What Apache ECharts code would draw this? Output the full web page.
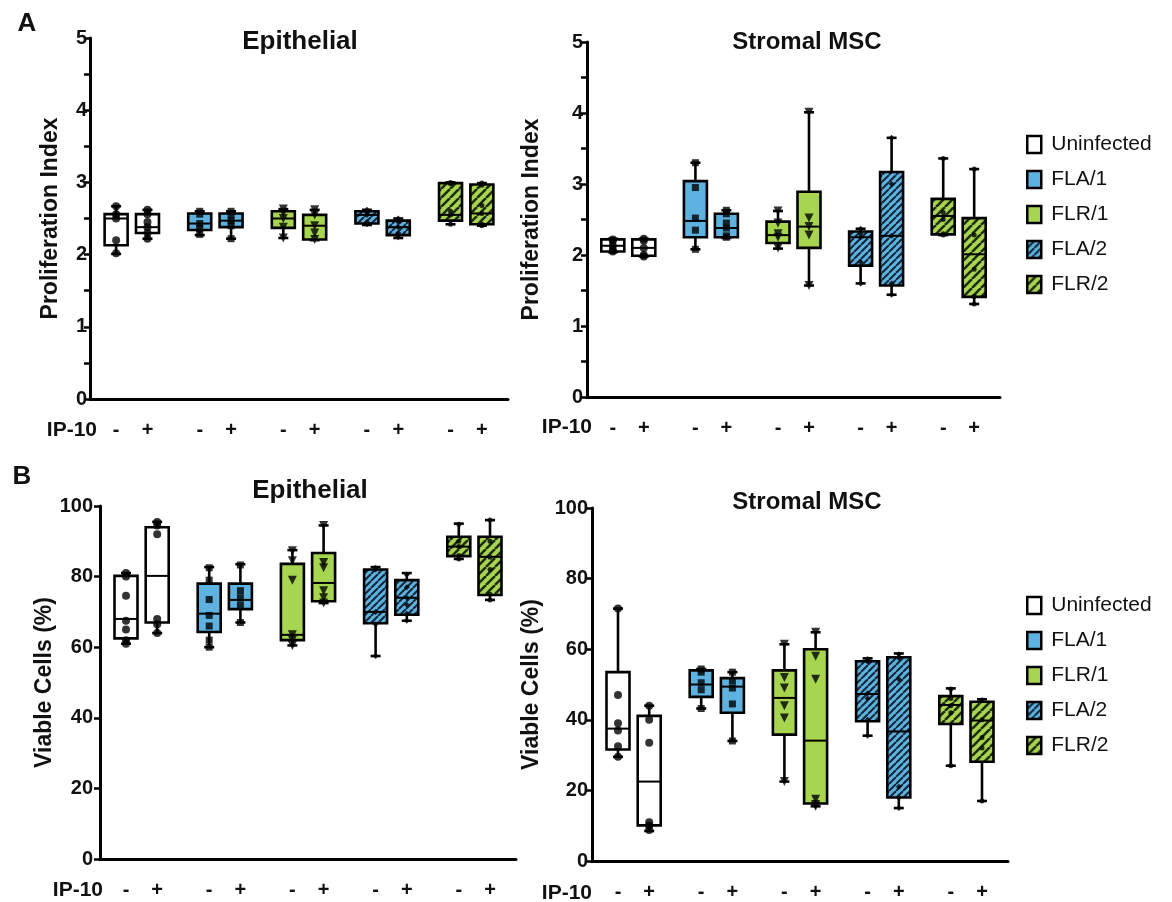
<!DOCTYPE html>
<html>
<head>
<meta charset="utf-8">
<script src="https://cdn.jsdelivr.net/npm/echarts@6/dist/echarts.min.js"></script>
<style>
  html, body { margin: 0; padding: 0; background: #fff; }
  #chart { width: 1172px; height: 902px; }
</style>
</head>
<body>
<div id="chart"></div>
<script>
// ---- data -------------------------------------------------------------
const groups = ['Uninfected', 'FLA/1', 'FLR/1', 'FLA/2', 'FLR/2'];
const ip10Labels = ['-', '+'];
const ip10Name = 'IP-10';
const panelTitles = ['Epithelial', 'Stromal MSC', 'Epithelial', 'Stromal MSC'];
const yAxisNames = ['Proliferation Index', 'Proliferation Index', 'Viable Cells (%)', 'Viable Cells (%)'];

// Box statistics [min, q1, median, q3, max]; order: each group with IP-10 -, then +
const prolifEpiBoxes = [
  [2.01, 2.13, 2.50, 2.56, 2.67], [2.22, 2.30, 2.38, 2.56, 2.62],
  [2.27, 2.34, 2.43, 2.57, 2.60], [2.22, 2.38, 2.47, 2.57, 2.60],
  [2.23, 2.37, 2.50, 2.60, 2.63], [2.20, 2.21, 2.40, 2.55, 2.62],
  [2.41, 2.43, 2.55, 2.60, 2.62], [2.23, 2.27, 2.38, 2.47, 2.50],
  [2.42, 2.47, 2.55, 2.99, 3.00], [2.40, 2.42, 2.57, 2.97, 2.99]
];
const prolifEpiPoints = [
  [2.67, 2.56, 2.50, 2.20, 2.02], [2.62, 2.56, 2.45, 2.38, 2.30, 2.22],
  [2.60, 2.56, 2.43, 2.36, 2.28], [2.60, 2.55, 2.47, 2.40, 2.22],
  [2.63, 2.58, 2.50, 2.38, 2.23], [2.62, 2.55, 2.40, 2.30, 2.21],
  [2.62, 2.58, 2.55, 2.45, 2.42], [2.50, 2.45, 2.38, 2.30, 2.24],
  [3.00, 2.98, 2.60, 2.55, 2.42], [2.99, 2.96, 2.68, 2.57, 2.42, 2.40]
];

const prolifMscBoxes = [
  [2.04, 2.05, 2.13, 2.22, 2.23], [1.98, 1.99, 2.10, 2.22, 2.23],
  [2.08, 2.25, 2.48, 3.04, 3.30], [2.24, 2.25, 2.38, 2.58, 2.63],
  [2.09, 2.17, 2.28, 2.47, 2.62], [1.57, 2.10, 2.40, 2.89, 4.01],
  [1.60, 1.85, 2.25, 2.33, 2.37], [1.44, 1.57, 2.27, 3.17, 3.65],
  [2.28, 2.29, 2.55, 2.79, 3.36], [1.31, 1.41, 2.01, 2.52, 3.21]
];
const prolifMscPoints = [
  [2.22, 2.20, 2.13, 2.07, 2.05], [2.23, 2.20, 2.10, 2.00, 1.98],
  [3.30, 2.95, 2.52, 2.35, 2.08], [2.63, 2.58, 2.45, 2.38, 2.27, 2.25],
  [2.62, 2.45, 2.30, 2.25, 2.10], [4.01, 2.52, 2.40, 2.28, 1.57],
  [2.37, 2.30, 2.25, 1.90, 1.60], [3.65, 3.00, 2.27, 1.60, 1.44],
  [3.36, 2.60, 2.50, 2.30, 2.28], [3.21, 2.28, 1.80, 1.42, 1.31]
];

const viableEpiBoxes = [
  [61.0, 62.5, 68.0, 80.2, 81.0], [64.0, 67.0, 80.2, 94.0, 95.5],
  [60.0, 64.3, 69.5, 78.0, 82.7], [67.0, 70.8, 73.4, 78.0, 83.5],
  [60.5, 62.0, 63.5, 83.6, 87.5], [72.5, 73.0, 78.2, 86.7, 94.5],
  [57.5, 66.8, 70.0, 82.0, 82.7], [67.5, 69.2, 74.0, 79.0, 81.0],
  [85.0, 85.8, 88.5, 91.3, 95.0], [73.4, 74.8, 85.6, 91.3, 96.0]
];
const viableEpiPoints = [
  [81.0, 80.0, 74.6, 67.5, 65.0, 62.0, 61.0], [95.5, 94.5, 92.0, 68.0, 66.5, 64.0],
  [82.5, 79.0, 73.5, 69.0, 66.0, 62.0, 60.0], [83.3, 76.0, 74.0, 72.0, 67.0],
  [87.3, 84.5, 79.0, 63.5, 62.0, 60.5], [94.5, 84.0, 82.5, 76.0, 74.0, 72.5],
  [82.5, 82.0, 70.0, 66.5, 57.5], [80.5, 77.0, 74.0, 72.0, 69.5, 67.5],
  [94.8, 90.0, 88.5, 86.0, 85.0], [96.0, 90.0, 85.5, 82.0, 75.0, 73.4]
];

const viableMscBoxes = [
  [29.5, 31.6, 37.5, 53.5, 71.5], [8.5, 10.1, 22.5, 41.1, 44.0],
  [43.2, 46.5, 50.0, 54.0, 54.4], [34.0, 42.0, 49.4, 51.8, 53.5],
  [22.5, 35.8, 46.2, 54.0, 61.4], [15.5, 16.3, 34.1, 60.0, 64.8],
  [35.5, 39.6, 47.3, 56.6, 57.4], [15.0, 18.0, 36.7, 57.7, 58.8],
  [27.0, 38.8, 44.2, 46.7, 48.9], [17.0, 28.1, 39.8, 45.1, 45.8]
];
const viableMscPoints = [
  [71.5, 47.0, 39.0, 37.0, 32.5, 29.5], [44.0, 40.0, 33.5, 11.0, 10.0, 8.8],
  [54.4, 53.5, 50.5, 48.5, 43.2], [53.5, 51.0, 49.0, 44.5, 34.0],
  [61.4, 52.0, 49.0, 44.0, 40.5, 22.5], [64.8, 58.0, 51.5, 17.5, 16.0, 15.5],
  [57.2, 56.5, 47.5, 46.0, 40.0, 35.5], [58.6, 57.5, 51.5, 21.0, 18.0, 15.0],
  [48.7, 46.0, 44.0, 42.0, 27.0], [45.6, 40.0, 35.0, 32.0, 17.0]
];

// ---- styling helpers -------------------------------------------------
const FONT = '"Liberation Sans", Arial, Helvetica, sans-serif';
const INK = '#111';

function hatch(bg, fg, size, lw) {
  const c = document.createElement('canvas');
  c.width = c.height = size;
  const ctx = c.getContext('2d');
  ctx.fillStyle = bg;
  ctx.fillRect(0, 0, size, size);
  ctx.strokeStyle = fg;
  ctx.lineWidth = lw;
  ctx.beginPath();
  for (const o of [-size, 0, size]) { ctx.moveTo(o, size); ctx.lineTo(o + size, 0); }
  ctx.stroke();
  return { image: c, repeat: 'repeat' };
}

const BLUE = '#5db2df';
const GREEN = '#a7d54f';
const groupFills = [
  '#ffffff', BLUE, GREEN,
  hatch(BLUE, '#13263a', 7, 2),
  hatch(GREEN, '#1f2b0f', 9, 2.6)
];
const groupSymbols = [
  { symbol: 'circle', size: 8, rotate: 0 },
  { symbol: 'rect', size: 7, rotate: 0 },
  { symbol: 'triangle', size: 9, rotate: 180 },
  { symbol: 'diamond', size: 6, rotate: 0 },
  { symbol: 'circle', size: 5, rotate: 0 }
];

// slot layout on the category axis: 8 slots per group, pair members 3 slots apart
const SLOTS = 40;
const slotOf = (g, k) => g * 8 + 2 + k * 3;
const slotLabels = new Array(SLOTS).fill('');
groups.forEach((_, g) => ip10Labels.forEach((lab, k) => { slotLabels[slotOf(g, k)] = lab; }));
const hasLabel = (i) => slotLabels[i] !== '';

// panel layout
const panels = [
  { boxes: prolifEpiBoxes, points: prolifEpiPoints, max: 5, interval: 1, minor: true,
    grid: { left: 90, top: 38, width: 418, height: 361 },
    title: [300, 42], titleSize: 26, yNameGap: 28, yLabelMargin: 3, ipPos: [97, 430] },
  { boxes: prolifMscBoxes, points: prolifMscPoints, max: 5, interval: 1, minor: true,
    grid: { left: 587, top: 42, width: 413, height: 355 },
    title: [807, 42], titleSize: 24, yNameGap: 44, yLabelMargin: 4, ipPos: [592, 427] },
  { boxes: viableEpiBoxes, points: viableEpiPoints, max: 100, interval: 20, minor: false,
    grid: { left: 100, top: 506, width: 416, height: 353 },
    title: [310, 491], titleSize: 26, yNameGap: 38, yLabelMargin: 7, ipPos: [103, 890] },
  { boxes: viableMscBoxes, points: viableMscPoints, max: 100, interval: 20, minor: false,
    grid: { left: 592, top: 508, width: 416, height: 355 },
    title: [807, 502], titleSize: 24, yNameGap: 49, yLabelMargin: 4, ipPos: [592, 893] }
];

const BOX_W = 23;
const CAP_W = 10;

function renderBox(params, api) {
  const x = api.value(0);
  const g = api.value(6);
  const pMin = api.coord([x, api.value(1)]);
  const pQ1 = api.coord([x, api.value(2)]);
  const pMed = api.coord([x, api.value(3)]);
  const pQ3 = api.coord([x, api.value(4)]);
  const pMax = api.coord([x, api.value(5)]);
  const cx = pMed[0];
  const line = { stroke: '#000', lineWidth: 2.6 };
  return {
    type: 'group',
    children: [
      { type: 'line', shape: { x1: cx, y1: pMax[1], x2: cx, y2: pQ3[1] }, style: line },
      { type: 'line', shape: { x1: cx, y1: pQ1[1], x2: cx, y2: pMin[1] }, style: line },
      { type: 'line', shape: { x1: cx - CAP_W / 2, y1: pMax[1], x2: cx + CAP_W / 2, y2: pMax[1] }, style: line },
      { type: 'line', shape: { x1: cx - CAP_W / 2, y1: pMin[1], x2: cx + CAP_W / 2, y2: pMin[1] }, style: line },
      { type: 'rect', shape: { x: cx - BOX_W / 2, y: pQ3[1], width: BOX_W, height: pQ1[1] - pQ3[1] },
        style: { fill: groupFills[g], stroke: '#000', lineWidth: 2.6 } },
      { type: 'line', shape: { x1: cx - BOX_W / 2, y1: pMed[1], x2: cx + BOX_W / 2, y2: pMed[1] },
        style: { stroke: '#000', lineWidth: 2 } }
    ]
  };
}

const grids = [], xAxes = [], yAxes = [], series = [], titles = [];

panels.forEach((p, pi) => {
  grids.push(Object.assign({ containLabel: false }, p.grid));

  xAxes.push({
    type: 'category', gridIndex: pi,
    data: slotLabels.map((_, i) => String(i)),
    boundaryGap: true,
    axisLine: { lineStyle: { color: '#000', width: 3 } },
    axisTick: { interval: (i) => hasLabel(i), alignWithLabel: true, length: 8,
                lineStyle: { color: '#000', width: 3 } },
    axisLabel: { interval: (i) => hasLabel(i), formatter: (v, i) => slotLabels[i],
                 margin: 21, fontFamily: FONT, fontWeight: 'bold', fontSize: 20, color: INK },
    splitLine: { show: false }
  });

  yAxes.push({
    type: 'value', gridIndex: pi, min: 0, max: p.max, interval: p.interval,
    name: yAxisNames[pi], nameLocation: 'middle', nameGap: p.yNameGap,
    nameTextStyle: { fontFamily: FONT, fontWeight: 'bold', fontSize: 23, color: INK },
    axisLine: { show: true, lineStyle: { color: '#000', width: 3 } },
    axisTick: { show: true, length: 6, lineStyle: { color: '#000', width: 2.5 } },
    minorTick: { show: p.minor, splitNumber: 2, length: 6, lineStyle: { color: '#000', width: 2.5 } },
    axisLabel: { margin: p.yLabelMargin, fontFamily: FONT, fontWeight: 'bold', fontSize: 20, color: INK },
    splitLine: { show: false }
  });

  titles.push({
    text: panelTitles[pi], left: p.title[0], top: p.title[1],
    textAlign: 'center', textVerticalAlign: 'middle', padding: 0,
    textStyle: { fontFamily: FONT, fontWeight: 'bold', fontSize: p.titleSize, color: INK }
  });
  // row label for the IP-10 treatment, to the left of the "-"/"+" tick labels
  titles.push({
    text: ip10Name, left: p.ipPos[0], top: p.ipPos[1],
    textAlign: 'right', textVerticalAlign: 'middle', padding: 0,
    textStyle: { fontFamily: FONT, fontWeight: 'bold', fontSize: 21, color: INK }
  });

  groups.forEach((gName, g) => {
    const boxData = [], pointData = [];
    ip10Labels.forEach((_, k) => {
      const idx = g * 2 + k;
      const slot = slotOf(g, k);
      boxData.push([slot].concat(p.boxes[idx], [g]));
      p.points[idx].forEach(v => pointData.push([slot, v]));
    });
    series.push({
      type: 'custom', name: gName, xAxisIndex: pi, yAxisIndex: pi,
      renderItem: renderBox, z: 2,
      encode: { x: 0, y: [1, 2, 3, 4, 5] },
      itemStyle: { color: BLUE },
      data: boxData
    });
    series.push({
      type: 'scatter', xAxisIndex: pi, yAxisIndex: pi, z: 4,
      symbol: groupSymbols[g].symbol, symbolSize: groupSymbols[g].size,
      symbolRotate: groupSymbols[g].rotate,
      itemStyle: { color: '#000' },
      silent: true,
      data: pointData
    });
  });
});

titles.push(
  { text: 'A', left: 27, top: 24, textAlign: 'center', textVerticalAlign: 'middle', padding: 0,
    textStyle: { fontFamily: FONT, fontWeight: 'bold', fontSize: 26, color: INK } },
  { text: 'B', left: 22, top: 477, textAlign: 'center', textVerticalAlign: 'middle', padding: 0,
    textStyle: { fontFamily: FONT, fontWeight: 'bold', fontSize: 26, color: INK } }
);

const legendItems = groups.map((gName, g) => ({
  name: gName,
  itemStyle: { color: groupFills[g], borderColor: '#000', borderWidth: 2.5 }
}));
const legends = [134, 595].map(top => ({
  orient: 'vertical', left: 1026, top: top, padding: 0,
  icon: 'rect', itemWidth: 14, itemHeight: 17, itemGap: 14,
  selectedMode: false,
  textStyle: { fontFamily: FONT, fontSize: 21, color: INK, padding: [0, 0, 0, 5] },
  data: legendItems
}));

const chart = echarts.init(document.getElementById('chart'), null, { renderer: 'canvas' });
chart.setOption({
  backgroundColor: '#fff',
  animation: false,
  title: titles,
  legend: legends,
  grid: grids,
  xAxis: xAxes,
  yAxis: yAxes,
  series: series
});
</script>
</body>
</html>
